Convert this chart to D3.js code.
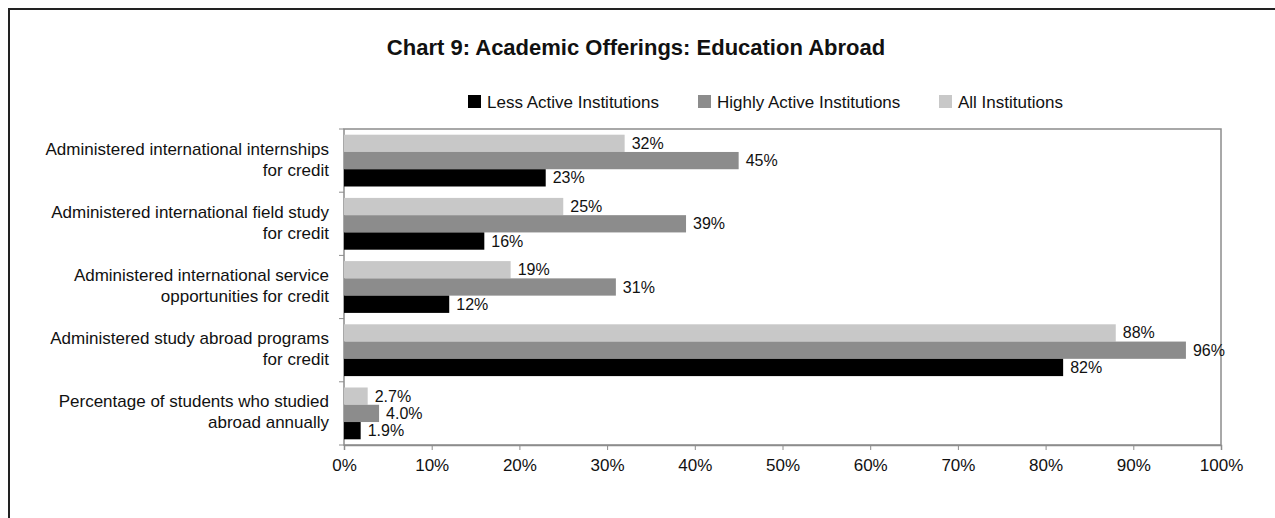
<!DOCTYPE html>
<html>
<head>
<meta charset="utf-8">
<script src="https://cdn.jsdelivr.net/npm/d3@7"></script>
<style>
  body { margin: 0; background: #fff; }
  svg text { font-family: "Liberation Sans", Arial, sans-serif; fill: #111; }
  .axis path, .axis line { stroke: #8c8c8c; }
  .axis text { font-size: 17px; fill: #111; }
</style>
</head>
<body>
<div id="chart"></div>
<script>
// categories, top to bottom, each label split in two lines
var categories = [
  ["Administered international internships", "for credit"],
  ["Administered international field study", "for credit"],
  ["Administered international service", "opportunities for credit"],
  ["Administered study abroad programs", "for credit"],
  ["Percentage of students who studied", "abroad annually"]
];
var seriesNames = ["All Institutions", "Highly Active Institutions", "Less Active Institutions"];
var allValues    = [32, 25, 19, 88, 2.7];
var highlyValues = [45, 39, 31, 96, 4.0];
var lessValues   = [23, 16, 12, 82, 1.9];
var valueLabels = [
  ["32%", "25%", "19%", "88%", "2.7%"],
  ["45%", "39%", "31%", "96%", "4.0%"],
  ["23%", "16%", "12%", "82%", "1.9%"]
];
var xTicks = [0, 10, 20, 30, 40, 50, 60, 70, 80, 90, 100];
var legendOrder = ["Less Active Institutions", "Highly Active Institutions", "All Institutions"];

var width = 1275, height = 518;
var colors = d3.scaleOrdinal()
  .domain(seriesNames)
  .range(["#c8c8c8", "#8c8c8c", "#000000"]);

var svg = d3.select("#chart").append("svg")
  .attr("width", width)
  .attr("height", height);

// outer frame (right / bottom run off the picture)
svg.append("rect")
  .attr("x", 9).attr("y", 9)
  .attr("width", 1300).attr("height", 600)
  .attr("fill", "none")
  .attr("stroke", "#222")
  .attr("stroke-width", 2);

// title
svg.append("text")
  .attr("x", 636).attr("y", 55)
  .attr("text-anchor", "middle")
  .style("font-size", "22px")
  .style("font-weight", "bold")
  .text("Chart 9: Academic Offerings: Education Abroad");

// scales
var plotLeft = 344, plotRight = 1221, plotTop = 129, plotBottom = 445;
var xScale = d3.scaleLinear().domain([0, 100]).range([plotLeft, plotRight]);
var yScale = d3.scaleBand().domain(d3.range(categories.length)).range([plotTop, plotBottom]);
var inner = d3.scaleBand().domain(seriesNames).range([0, yScale.bandwidth()]).paddingOuter(0.33).paddingInner(0);

// plot border
svg.append("rect")
  .attr("x", plotLeft).attr("y", plotTop)
  .attr("width", plotRight - plotLeft).attr("height", plotBottom - plotTop)
  .attr("fill", "none")
  .attr("stroke", "#8c8c8c")
  .attr("stroke-width", 1.5);

// x axis
var xAxis = d3.axisBottom(xScale)
  .tickValues(xTicks)
  .tickSize(5)
  .tickPadding(9)
  .tickFormat(function(d) { return d + "%"; });
svg.append("g")
  .attr("class", "axis")
  .attr("transform", "translate(0," + plotBottom + ")")
  .call(xAxis)
  .call(function(g) { g.select(".domain").attr("stroke-width", 1.5); });

// y axis ticks at band boundaries
svg.append("g")
  .attr("class", "axis")
  .selectAll("line")
  .data(d3.range(categories.length + 1))
  .enter()
  .append("line")
  .attr("x1", plotLeft - 5).attr("x2", plotLeft)
  .attr("y1", function(i) { return plotTop + i * yScale.step(); })
  .attr("y2", function(i) { return plotTop + i * yScale.step(); });

// category labels
var catLabel = svg.selectAll(".cat-label")
  .data(categories)
  .enter()
  .append("text")
  .attr("class", "cat-label")
  .attr("text-anchor", "end")
  .style("font-size", "17px");
catLabel.append("tspan")
  .attr("x", 329)
  .attr("y", function(d, i) { return yScale(i) + yScale.bandwidth() / 2 - 6; })
  .text(function(d) { return d[0]; });
catLabel.append("tspan")
  .attr("x", 329)
  .attr("y", function(d, i) { return yScale(i) + yScale.bandwidth() / 2 + 15; })
  .text(function(d) { return d[1]; });

// bars
var seriesData = [allValues, highlyValues, lessValues];
seriesNames.forEach(function(name, s) {
  svg.selectAll(".bar-" + s)
    .data(seriesData[s])
    .enter()
    .append("rect")
    .attr("class", "bar-" + s)
    .attr("x", xScale(0))
    .attr("y", function(d, i) { return yScale(i) + inner(name); })
    .attr("width", function(d) { return xScale(d) - xScale(0); })
    .attr("height", inner.bandwidth())
    .attr("fill", colors(name));

  svg.selectAll(".val-" + s)
    .data(seriesData[s])
    .enter()
    .append("text")
    .attr("class", "val-" + s)
    .attr("x", function(d) { return xScale(d) + 7; })
    .attr("y", function(d, i) { return yScale(i) + inner(name) + inner.bandwidth() / 2 + 5.5; })
    .style("font-size", "16px")
    .text(function(d, i) { return valueLabels[s][i]; });
});

// legend
var legendX = [468, 698, 939];
var legend = svg.selectAll(".legend")
  .data(legendOrder)
  .enter()
  .append("g")
  .attr("class", "legend")
  .attr("transform", function(d, i) { return "translate(" + legendX[i] + ",95)"; });
legend.append("rect")
  .attr("width", 13).attr("height", 13)
  .attr("fill", function(d) { return colors(d); });
legend.append("text")
  .attr("x", 19).attr("y", 13)
  .style("font-size", "17px")
  .text(function(d) { return d; });
</script>
</body>
</html>
